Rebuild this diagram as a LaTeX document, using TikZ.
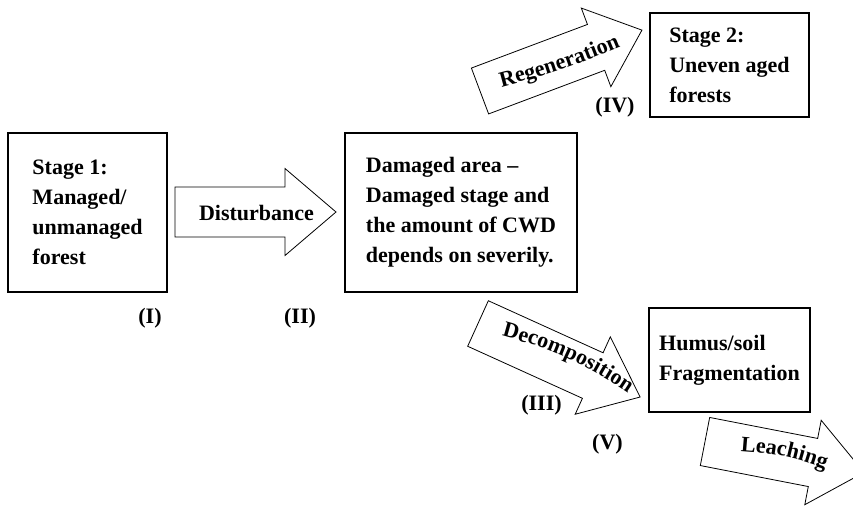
\documentclass[tikz,border=0pt]{standalone}
\usepackage{fontspec}
\setmainfont{Liberation Serif}
\usetikzlibrary{decorations.text}
\newcommand\lblfont{\bfseries\fontsize{22}{30}\selectfont}
\newcommand\blkarrow[6]{%
  \draw[arrowshape, shift={#1}, rotate=#2]
    (0,#5) -- ({#3-#4},#5) -- ({#3-#4},#6) -- (#3,0) --
    ({#3-#4},-#6) -- ({#3-#4},-#5) -- (0,-#5) -- cycle;}
\tikzset{
  box/.style={draw, line width=1.4pt, align=left, font=\lblfont, inner sep=0pt},
  arrowshape/.style={draw, line width=0.8pt, fill=white},
  lbl/.style={font=\lblfont, anchor=base, inner sep=0pt},
  curvetext/.style={decorate, decoration={text along path, text align=center, text={|\lblfont|#1}}}
}
\begin{document}
\begin{tikzpicture}[x=1pt, y=1pt]
\useasboundingbox (0,0) rectangle (853,507);
\clip (0,0) rectangle (853,507);
\fill[white] (0,0) rectangle (853,507);

% boxes
\node[box, minimum width=159pt, minimum height=159pt] (s1) at (87.5,294.5)
  {Stage 1:\\Managed/\\unmanaged\\forest};
\node[box, minimum width=232pt, minimum height=159pt] (dmg) at (461,294.5)
  {Damaged area --\\Damaged stage and\\the amount of CWD\\depends on severily.};
\node[box, minimum width=159pt, minimum height=104pt] (s2) at (729.5,442)
  {Stage 2:\\Uneven aged\\forests};
\node[box, minimum width=161pt, minimum height=104pt] (hum) at (729.5,147)
  {Humus/soil\\Fragmentation};

% block arrows
\blkarrow{(175,295)}{0}{161}{51}{25}{43.5}
\blkarrow{(480,416)}{20.6}{173}{49}{24.5}{42}
\blkarrow{(478,183.5)}{-24.4}{178}{52}{25}{42.5}
\blkarrow{(705,65.5)}{-11}{162}{52}{24.5}{43}

% arrow labels
\node[lbl] (dist) at (256.5,287) {Disturbance};
\path[curvetext=Regeneration] (498,419) to[bend right=4] (624,462);
\path[curvetext=Decomposition] (495,173) to[bend left=10] (634,110);
\path[curvetext=Leaching] (740,56) to[bend left=8] (826,38);

% roman numerals
\node[lbl] (n1) at (150,184) {(I)};
\node[lbl] (n2) at (300,184) {(II)};
\node[lbl] (n3) at (541.5,97) {(III)};
\node[lbl] (n4) at (615,394) {(IV)};
\node[lbl] (n5) at (607.5,58) {(V)};
\end{tikzpicture}
\end{document}
